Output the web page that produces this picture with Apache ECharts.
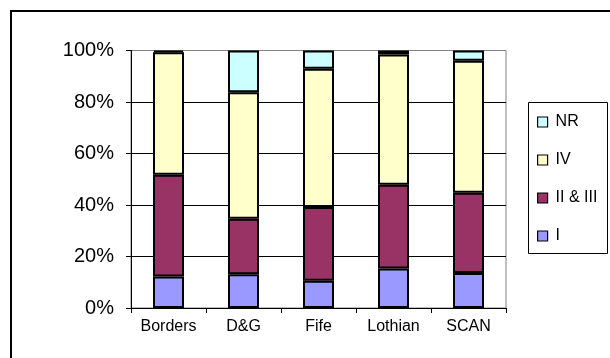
<!DOCTYPE html>
<html>
<head>
<meta charset="utf-8">
<script src="https://cdn.jsdelivr.net/npm/echarts@6/dist/echarts.min.js"></script>
<style>
  html, body { margin: 0; padding: 0; background: #fff; }
  #chart { width: 610px; height: 358px; }
</style>
</head>
<body>
<div id="chart"></div>
<script>
// Regions along the x axis
const categories = ['Borders', 'D&G', 'Fife', 'Lothian', 'SCAN'];

// Percentage share of each stage group per region
const stageI = [12.2, 13.1, 10.6, 15.3, 13.6];
const stageIIandIII = [39.5, 21.6, 28.6, 32.6, 31.2];
const stageIV = [47.6, 49.1, 53.7, 50.5, 51.2];
const stageNR = [0.7, 16.2, 7.1, 1.6, 4.0];

const seriesNames = ['I', 'II & III', 'IV', 'NR'];
const seriesColors = ['#9999FF', '#993366', '#FFFFCC', '#CCFFFF'];
const seriesValues = [stageI, stageIIandIII, stageIV, stageNR];

// Y axis ticks (percent)
const yMin = 0, yMax = 100, yStep = 20;

const FONT = 'Arial, "Liberation Sans", sans-serif';

const chart = echarts.init(document.getElementById('chart'), null, { renderer: 'canvas' });

const series = seriesNames.map((name, i) => ({
  name: name,
  type: 'bar',
  stack: 'total',
  barWidth: 31,
  data: seriesValues[i],
  itemStyle: {
    color: seriesColors[i],
    borderColor: '#000',
    borderWidth: 2
  },
  emphasis: { disabled: true },
  animation: false
}));

chart.setOption({
  animation: false,
  backgroundColor: '#fff',
  grid: {
    left: 131,
    right: 104,
    top: 50.5,
    bottom: 50,
    show: true,
    borderColor: '#808080',
    borderWidth: 1,
    backgroundColor: 'transparent'
  },
  legend: {
    data: ['NR', 'IV', 'II & III', 'I'],
    orient: 'vertical',
    left: 528,
    top: 102,
    padding: [12, 8, 10, 9],
    itemWidth: 10,
    itemHeight: 10,
    itemGap: 22,
    icon: 'rect',
    selectedMode: false,
    itemStyle: { borderColor: '#000', borderWidth: 1.2 },
    textStyle: {
      fontFamily: FONT,
      fontSize: 16,
      color: '#000',
      padding: [0, 0, 0, 3]
    }
  },
  xAxis: {
    type: 'category',
    data: categories,
    axisLine: { show: true, lineStyle: { color: '#000', width: 1 } },
    axisTick: { show: true, length: 5, lineStyle: { color: '#000' } },
    axisLabel: {
      fontFamily: FONT,
      fontSize: 16,
      color: '#000',
      margin: 11,
      interval: 0
    },
    splitLine: { show: false }
  },
  yAxis: {
    type: 'value',
    min: yMin,
    max: yMax,
    interval: yStep,
    axisLine: { show: true, lineStyle: { color: '#000', width: 1 } },
    axisTick: { show: true, length: 5, lineStyle: { color: '#000' } },
    axisLabel: {
      fontFamily: FONT,
      fontSize: 20,
      color: '#000',
      margin: 17,
      formatter: '{value}%'
    },
    splitLine: {
      show: true,
      lineStyle: {
        color: ['#000', '#000', '#000', '#000', '#000', '#808080'],
        width: 1
      }
    }
  },
  graphic: [
    // outer frame (left and top edges fall inside the canvas)
    {
      type: 'polyline',
      shape: { points: [[11, 420], [11, 11], [700, 11]] },
      style: { fill: 'none', stroke: '#000', lineWidth: 2 },
      silent: true,
      z: 100
    },
    // legend frame
    {
      type: 'rect',
      shape: { x: 528.5, y: 102.5, width: 79, height: 151 },
      style: { fill: '#fff', stroke: '#000', lineWidth: 1 },
      silent: true,
      z: 0
    }
  ],
  series: series
});
</script>
</body>
</html>
